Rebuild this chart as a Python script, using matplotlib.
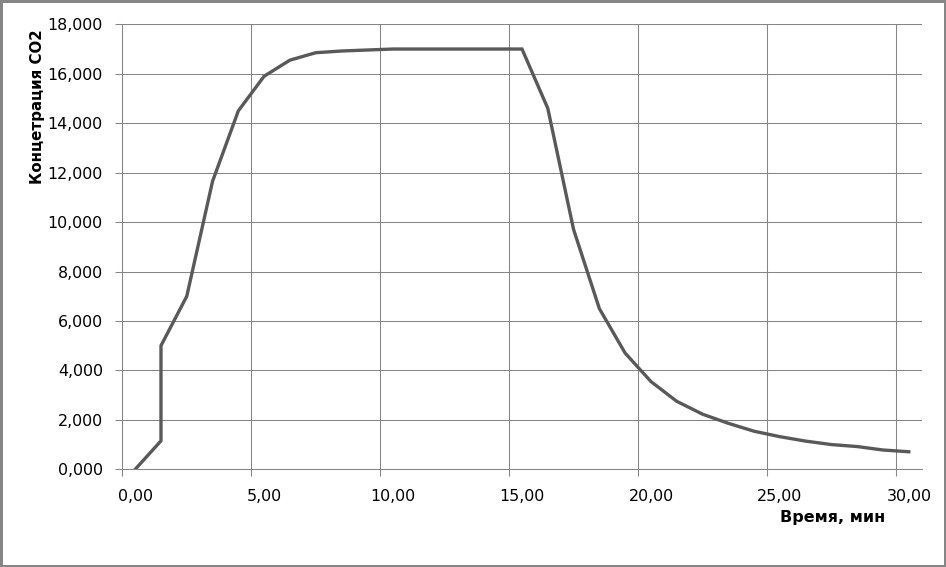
import matplotlib
matplotlib.use('Agg')
import matplotlib.pyplot as plt
from matplotlib.patches import Rectangle
from matplotlib.ticker import FuncFormatter, MultipleLocator
from matplotlib.transforms import ScaledTranslation

# Время, мин / концентрация CO2
time_min = [0.5, 1.5, 1.5, 2.5, 3.5, 4.5, 5.5, 6.5, 7.5, 8.5, 9.5, 10.5,
            11.5, 12.5, 13.5, 14.5, 15.5, 16.5, 17.5, 18.5, 19.5, 20.5,
            21.5, 22.5, 23.5, 24.5, 25.5, 26.5, 27.5, 28.5, 29.5, 30.5]
co2 = [0.0, 1.15, 5.0, 7.0, 11.65, 14.5, 15.9, 16.55, 16.85, 16.92, 16.96, 17.0,
       17.0, 17.0, 17.0, 17.0, 17.0, 14.6, 9.7, 6.5, 4.7, 3.55,
       2.75, 2.23, 1.86, 1.54, 1.32, 1.14, 1.0, 0.92, 0.78, 0.71]

x_ticks = [0, 5, 10, 15, 20, 25, 30]
y_ticks = [0, 2, 4, 6, 8, 10, 12, 14, 16, 18]
x_label = 'Время, мин'
y_label = 'Концетрация CO2'

W, H = 946, 567
plt.rcParams['font.family'] = ['DejaVu Sans']

fig = plt.figure(figsize=(W / 100, H / 100), dpi=100)
ax = fig.add_axes([122.3 / W, 1 - 469.3 / H, (921.7 - 122.3) / W, (469.3 - 24.3) / H])

grid_c = '#868686'
ax.plot(time_min, co2, color='#595959', lw=2.4, solid_joinstyle='miter', zorder=3)

ax.set_xlim(0, 31)
ax.set_ylim(0, 18)
ax.set_xticks(x_ticks)
ax.set_yticks(y_ticks)
ax.xaxis.set_major_formatter(FuncFormatter(lambda v, p: f'{v:.2f}'.replace('.', ',')))
ax.yaxis.set_major_formatter(FuncFormatter(lambda v, p: f'{v:.3f}'.replace('.', ',')))

ax.grid(True, color=grid_c, lw=0.75, zorder=0)
for s in ('top', 'right'):
    ax.spines[s].set_visible(False)
for s in ('left', 'bottom'):
    ax.spines[s].set_color(grid_c)
    ax.spines[s].set_linewidth(0.75)
ax.tick_params(axis='both', direction='out', length=5, width=0.75, color=grid_c,
               labelsize=11.4, labelcolor='black')
ax.tick_params(axis='y', pad=9)
ax.tick_params(axis='x', pad=9.5)

# x labels in the reference sit a little to the right of their ticks
shift = ScaledTranslation(12.9 / 100, 0, fig.dpi_scale_trans)
for lbl in ax.get_xticklabels():
    lbl.set_transform(lbl.get_transform() + shift)

fig.text(885 / W, 1 - 517.5 / H, x_label, ha='right', va='center',
         fontsize=11.5, fontweight='bold')
fig.text(37.5 / W, 1 - 107 / H, y_label, ha='center', va='center',
         rotation=90, fontsize=10.8, fontweight='bold')

fig.patches.append(Rectangle((0, 0), 1, 1, transform=fig.transFigure,
                             fill=False, edgecolor=grid_c, lw=3.6))

fig.savefig('out.png', dpi=100)
